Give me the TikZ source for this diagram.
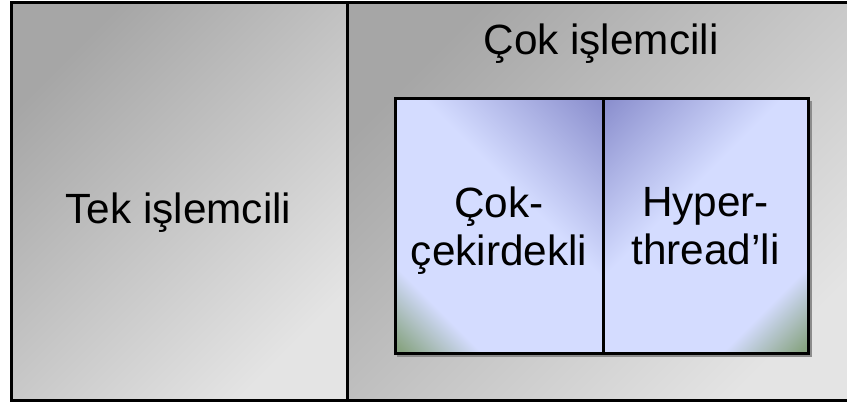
\documentclass[tikz,border=0pt]{standalone}
\usepackage{fontspec}
\setmainfont{Liberation Sans}
\definecolor{grn}{RGB}{136,164,130}
\definecolor{lite}{RGB}{212,220,255}
\definecolor{dblue}{RGB}{130,134,200}
\definecolor{gdark}{RGB}{166,166,166}
\definecolor{glight}{RGB}{228,228,228}
\pgfdeclareverticalshading{innershade}{100bp}{color(0bp)=(grn); color(16bp)=(grn); color(28bp)=(lite); color(58bp)=(lite); color(88bp)=(dblue); color(100bp)=(dblue)}
\tikzset{
  outerbox/.style={draw=black, line width=3pt, top color=gdark, bottom color=glight, shading angle=45},
  innerbox/.style={draw=black, line width=3pt, shading=innershade},
  shadowline/.style={draw=black!45, line width=2pt},
  lbl/.style={font=\fontsize{42.3}{48}\selectfont, anchor=base, align=center, inner sep=0pt}
}
\begin{document}
\begin{tikzpicture}[x=1pt,y=-1pt]
\useasboundingbox (0,0) rectangle (847,403);
\fill[white] (0,0) rectangle (847,403);
\begin{scope}
\clip (0,0) rectangle (847,403);
\path[outerbox] (11,3) rectangle (347,401);
\path[outerbox] (347,3) rectangle (865,401);
\draw[shadowline] (397,356) -- (810.5,356) -- (810.5,101);
\path[innerbox, shading angle=-45] (395,99) rectangle (603,354);
\path[innerbox, shading angle=45] (603,99) rectangle (808.5,354);
\end{scope}
\node[lbl] (single) at (178.5,224) {Tek işlemcili};
\node[lbl] (multi) at (601,55) {Çok işlemcili};
\node[lbl] (multicore) at (499,266) {Çok-\\çekirdekli};
\node[lbl] (hyper) at (705.5,265) {Hyper-\\thread’li};
\end{tikzpicture}
\end{document}
